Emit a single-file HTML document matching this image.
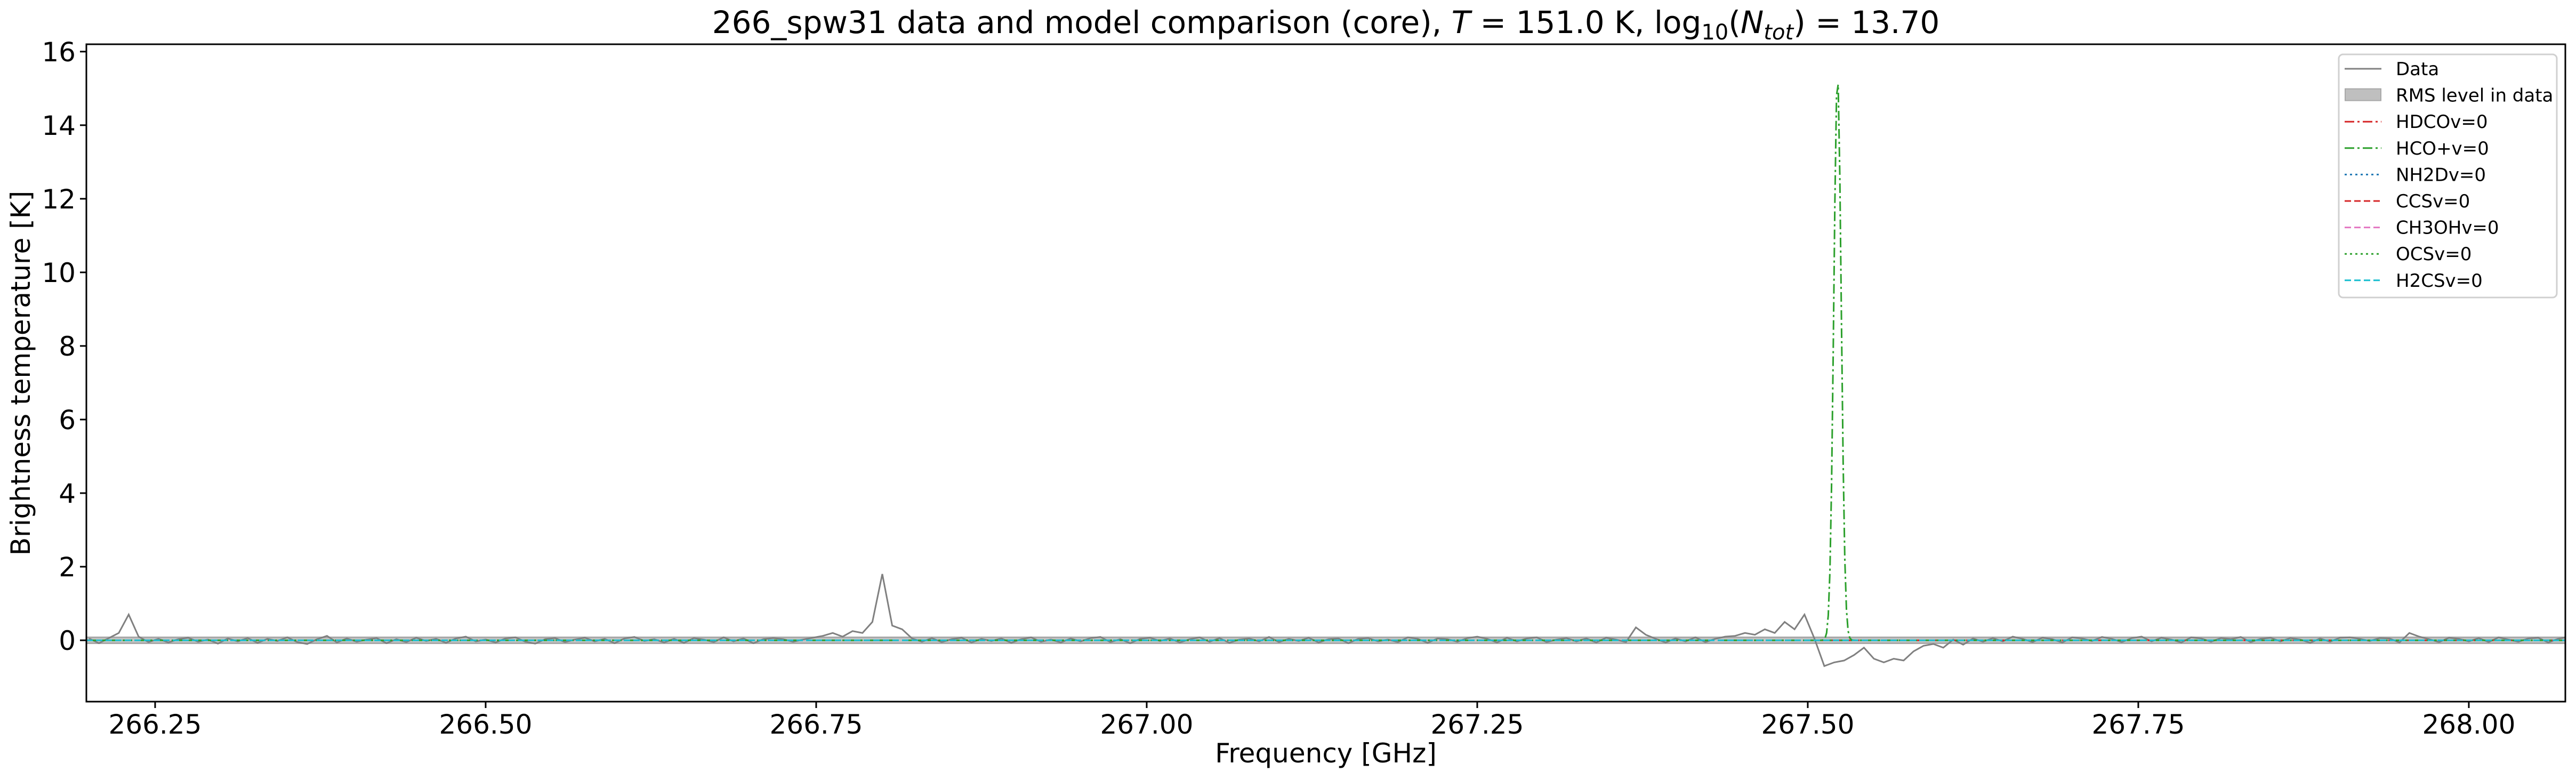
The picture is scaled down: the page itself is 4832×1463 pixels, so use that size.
<!DOCTYPE html>
<html><head><meta charset="utf-8">
<style>
html,body{margin:0;padding:0;background:#fff;}
svg{display:block;font-family:"DejaVu Sans","Liberation Sans",sans-serif;}
</style></head>
<body>
<svg id="chart" width="4832" height="1463" viewBox="0 0 4832 1463" xmlns="http://www.w3.org/2000/svg">
<rect width="4832" height="1463" fill="#fff"/>
<text x="2487" y="62" font-size="58" text-anchor="middle">266_spw31 data and model comparison (core), <tspan font-style="italic">T</tspan> = 151.0 K, log<tspan font-size="40" dy="12">10</tspan><tspan dy="-12">(</tspan><tspan font-style="italic">N</tspan><tspan font-style="italic" font-size="40" dy="12">tot</tspan><tspan dy="-12">) = 13.70</tspan></text>
<g id="plot"></g>
<text x="2487" y="1430" font-size="50" text-anchor="middle">Frequency [GHz]</text>
<text transform="translate(56,700) rotate(-90)" font-size="50" text-anchor="middle">Brightness temperature [K]</text>
<g id="legend"></g>
</svg>
<script>
const freqStart = 266.2;
const freqStep = 0.0075;
const dataValues = [
0.05,-0.08,0.06,0.2,0.7,0.1,-0.05,0.04,-0.06,0.03,
0.07,-0.04,0.02,-0.09,0.05,-0.03,0.06,-0.07,0.04,-0.02,
0.08,-0.05,-0.1,0.03,0.12,-0.06,0.05,-0.04,0.02,0.06,
-0.08,0.03,-0.05,0.07,-0.02,0.04,-0.07,0.05,0.1,-0.03,
0.02,-0.06,0.05,0.08,-0.04,-0.09,0.03,0.06,-0.05,0.02,
0.07,-0.03,0.04,-0.08,0.05,0.09,-0.02,0.03,-0.06,0.04,
-0.07,0.06,0.02,-0.05,0.08,-0.03,0.05,-0.08,0.03,0.06,
0.03,
-0.04,0.02,0.07,0.12,0.2,0.1,0.25,0.2,0.5,1.8,
0.4,0.3,0.05,-0.04,0.06,-0.05,0.03,0.07,-0.06,0.04,
-0.02,0.05,-0.07,0.03,0.08,-0.04,0.02,-0.06,0.05,-0.03,
0.06,0.09,-0.05,0.03,-0.08,0.04,0.07,-0.02,0.05,-0.06,
0.03,0.08,-0.04,0.06,-0.07,0.02,0.05,-0.03,0.09,-0.05,
0.04,-0.02,0.07,-0.06,0.03,0.05,-0.08,0.04,0.06,-0.03,
0.02,-0.05,0.08,0.04,-0.07,0.05,0.03,-0.04,0.06,0.1,
0.04,-0.06,0.07,-0.03,0.05,0.08,-0.05,0.02,0.06,
-0.03,0.05,-0.06,0.07,0.02,-0.05,0.35,0.15,0.04,-0.06,
0.05,-0.03,0.08,-0.05,0.04,0.1,0.12,
0.2,0.15,0.3,0.2,0.5,0.3,0.7,0.05,
-0.7,-0.6,-0.55,-0.4,-0.2,-0.5,-0.6,-0.5,-0.55,-0.3,
-0.15,-0.1,-0.2,0.02,-0.12,0.05,-0.04,0.06,-0.03,0.1,
0.04,-0.05,0.07,0.03,-0.06,0.08,0.05,-0.02,0.09,0.04,
-0.05,0.06,0.1,-0.03,0.07,0.02,-0.06,0.08,0.05,-0.04,
0.06,0.03,0.09,-0.05,0.04,0.07,-0.03,0.06,0.02,-0.07,
0.05,-0.04,0.07,
0.08,0.04,-0.02,0.06,0.05,-0.06,0.2,0.1,0.03,-0.05,
0.07,0.04,-0.03,0.06,-0.05,0.08,0.02,-0.04,0.05,0.07,
-0.06,0.04,0.09,-0.03,0.06,0.05,-0.05,0.03,0.07,-0.02,
0.04
];
const modelNames = ["HDCOv=0","HCO+v=0","NH2Dv=0","CCSv=0","CH3OHv=0","OCSv=0","H2CSv=0"];
const modelCenters = [null,267.5225,null,null,null,null,null];
const modelPeaks = [0,15.35,0,0,0,0,0];
const modelSigma = 0.0028;
const rmsLevel = 0.08;
const xTicks = [266.25,266.5,266.75,267.0,267.25,267.5,267.75,268.0];
const xTickLabels = ["266.25","266.50","266.75","267.00","267.25","267.50","267.75","268.00"];
const yTicks = [0,2,4,6,8,10,12,14,16];
const yTickLabels = ["0","2","4","6","8","10","12","14","16"];

const NS="http://www.w3.org/2000/svg";
const L=162,R=4812,T=83,B=1316;
const xmin=266.198,xmax=268.073,ymin=-1.667,ymax=16.2;
const X=f=>L+(f-xmin)/(xmax-xmin)*(R-L);
const Y=v=>B-(v-ymin)/(ymax-ymin)*(B-T);
function mk(tag,attrs,parent){const e=document.createElementNS(NS,tag);for(const k in attrs)e.setAttribute(k,attrs[k]);parent.appendChild(e);return e;}
const plot=document.getElementById('plot');
const svg=document.getElementById('chart');
const defs=mk('defs',{},svg);
const cp=mk('clipPath',{id:'clip'},defs);
mk('rect',{x:L,y:T,width:R-L,height:B-T},cp);
const g=mk('g',{'clip-path':'url(#clip)'},plot);

const band=mk('rect',{x:L,y:Y(rmsLevel),width:R-L,height:Y(-rmsLevel)-Y(rmsLevel),fill:'#bfbfbf','fill-opacity':'0.9',stroke:'#a8a8a8','stroke-width':3},g);



let d='';
dataValues.forEach((v,i)=>{d+=(i?'L':'M')+X(freqStart+i*freqStep).toFixed(1)+','+Y(v).toFixed(1);});
const dl=mk('path',{d:d,fill:'none',stroke:'#808080','stroke-width':3},g);



const colors=['#d62728','#2ca02c','#1f77b4','#d62728','#e377c2','#2ca02c','#17becf'];
const dashes=['18,6,4,6','18,6,4,6','4,6','12,6','12,6','4,6','12,6'];
const order=[0,2,3,4,5,1,6];
order.forEach(m=>{
  let p='';const n=1500;
  for(let k=0;k<=n;k++){const f=xmin+(xmax-xmin)*k/n;let v=0;
    if(modelCenters[m]!==null){v=modelPeaks[m]*Math.exp(-0.5*Math.pow((f-modelCenters[m])/modelSigma,2));}
    p+=(k?'L':'M')+X(f).toFixed(1)+','+Y(v).toFixed(1);}
  const ml=mk('path',{d:p,fill:'none',stroke:colors[m],'stroke-width':3,'stroke-dasharray':dashes[m]},g);
  
  
});

const fr=mk('rect',{x:L,y:T,width:R-L,height:B-T,fill:'none',stroke:'#000','stroke-width':3},plot);



xTicks.forEach((t,i)=>{
  mk('line',{x1:X(t),x2:X(t),y1:B,y2:B+12,stroke:'#000','stroke-width':3},plot);
  const tx=mk('text',{x:X(t),y:B+60,'font-size':50,'text-anchor':'middle'},plot);
  tx.textContent=xTickLabels[i];
  
  
});
yTicks.forEach((t,i)=>{
  mk('line',{x1:L-12,x2:L,y1:Y(t),y2:Y(t),stroke:'#000','stroke-width':3},plot);
  const tx=mk('text',{x:L-20,y:Y(t)+18,'font-size':50,'text-anchor':'end'},plot);
  tx.textContent=yTickLabels[i];
  
  
});

const lg=document.getElementById('legend');
mk('rect',{x:4387,y:102,width:409,height:456,rx:8,fill:'#fff','fill-opacity':'0.8',stroke:'#d0d0d0','stroke-width':3},lg);
const labels=['Data','RMS level in data'].concat(modelNames);
labels.forEach((lab,i)=>{
  const y=129+i*49.6;
  if(i===0){mk('line',{x1:4398,x2:4467,y1:y,y2:y,stroke:'#808080','stroke-width':3},lg);}
  else if(i===1){mk('rect',{x:4399,y:y-12,width:67,height:22,fill:'#bfbfbf',stroke:'#a8a8a8','stroke-width':2},lg);}
  else{const m=i-2;mk('line',{x1:4398,x2:4467,y1:y,y2:y,stroke:colors[m],'stroke-width':3,'stroke-dasharray':dashes[m]},lg);}
  const tx=mk('text',{x:4494,y:y+12,'font-size':34},lg);
  tx.textContent=lab;
  
  
});
</script>
</body></html>
